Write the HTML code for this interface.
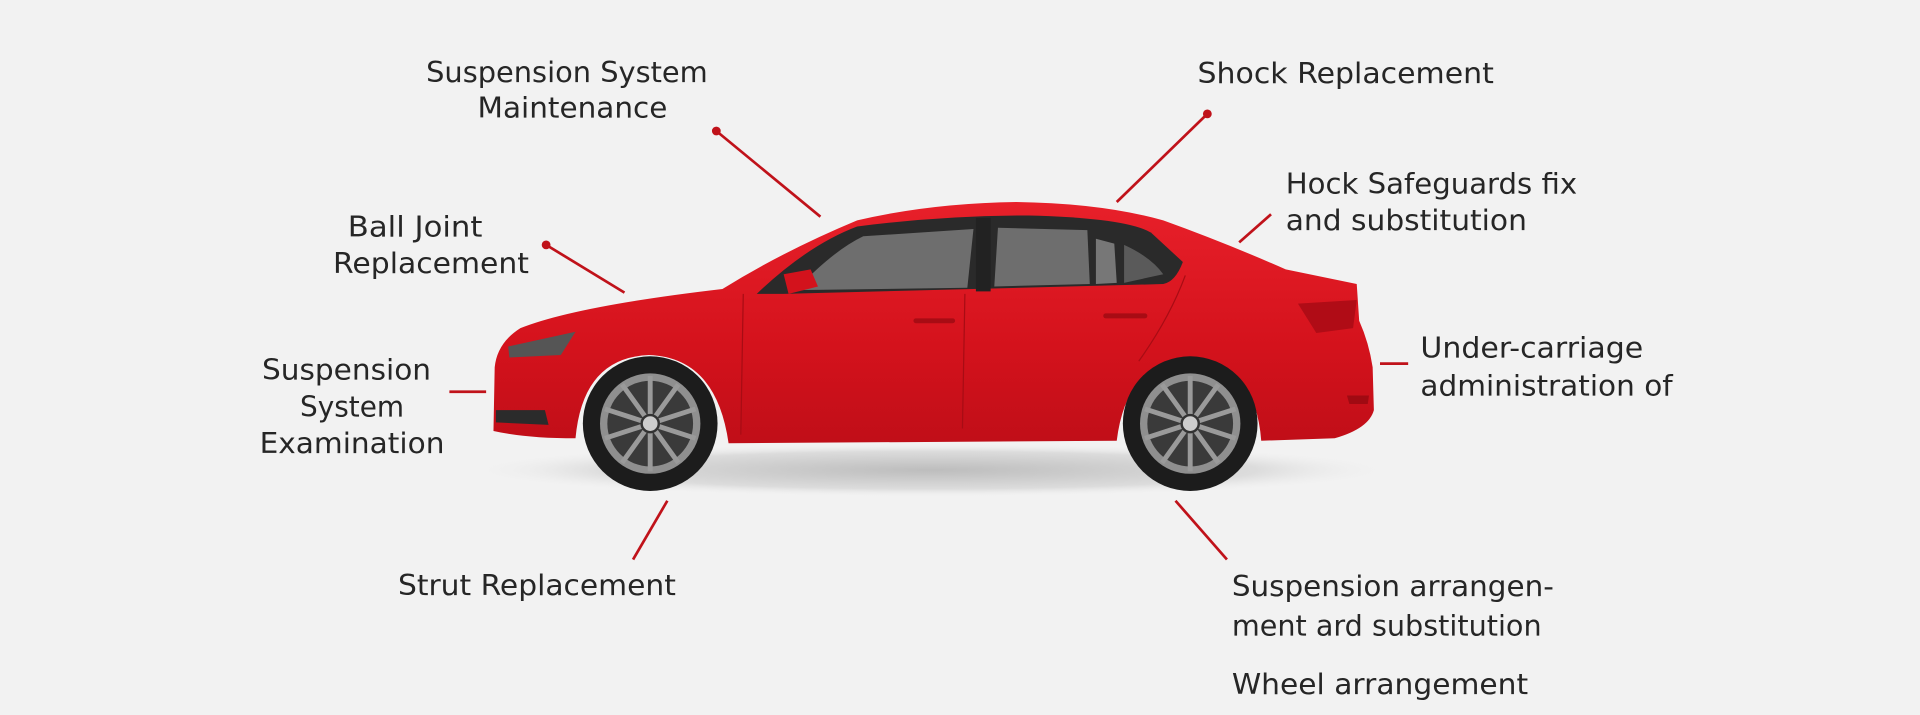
<!DOCTYPE html>
<html><head><meta charset="utf-8"><style>
html,body{margin:0;padding:0;background:#f2f2f2;}
svg{display:block}
text{font-family:"DejaVu Sans","Liberation Sans",sans-serif;font-size:23px;fill:#262626;}
</style></head><body>
<svg width="1920" height="715" viewBox="0 0 1568 584" preserveAspectRatio="none" xmlns="http://www.w3.org/2000/svg">
<defs>
<radialGradient id="sh" cx="0.5" cy="0.5" r="0.5"><stop offset="0" stop-color="#bdbdbd"/><stop offset="0.7" stop-color="#dcdcdc"/><stop offset="1" stop-color="#f2f2f2" stop-opacity="0"/></radialGradient>
<linearGradient id="bd" x1="0" y1="0" x2="0" y2="1"><stop offset="0" stop-color="#e8202a"/><stop offset="0.6" stop-color="#d4121c"/><stop offset="1" stop-color="#c00e18"/></linearGradient>
</defs>
<rect width="1568" height="584" fill="#f2f2f2"/>
<ellipse cx="760" cy="384" rx="380" ry="22" fill="url(#sh)"/>
<path d="M403,352 L404,300 Q406,280 425,268 Q470,250 590,236 Q640,205 700,180 Q760,166 830,165 Q900,166 950,180 Q1000,198 1050,220 L1108,232 L1110,262 Q1118,280 1121,300 L1122,335 Q1118,350 1090,358 L1030,360 Q1025,295 972,292 Q920,295 912,360 L595,362 Q585,292 530,290 Q476,292 470,358 Q430,358 403,352 Z" fill="url(#bd)"/>
<path d="M618,240 Q660,200 700,185 Q770,176 840,176 Q920,178 940,190 L966,214 Q960,230 950,232 L640,240 Z" fill="#2a2a2a"/>
<path d="M650,237 Q680,205 705,193 L795,187 L790,235 Z" fill="#6e6e6e"/>
<path d="M812,234 L815,186 L888,188 L890,232 Z" fill="#6e6e6e"/>
<path d="M895,232 L895,195 L910,199 L912,231 Z" fill="#777"/>
<path d="M918,231 L918,200 Q940,210 950,224 Z" fill="#5a5a5a"/>
<rect x="797" y="178" width="12" height="60" fill="#222"/>
<path d="M640,224 L662,220 L668,234 L644,240 Z" fill="#d3121c"/>
<path d="M607,240 L605,355 M788,240 L786,350 M968,225 Q955,260 930,295" stroke="#a80c14" stroke-width="1" fill="none"/>
<path d="M748,262 L778,262" stroke="#a80c14" stroke-width="4" stroke-linecap="round"/>
<path d="M903,258 L935,258" stroke="#a80c14" stroke-width="4" stroke-linecap="round"/>
<path d="M415,283 L470,271 L458,290 L416,292 Z" fill="#555"/>
<path d="M405,335 L445,335 L448,347 L405,345 Z" fill="#2b2b2b"/>
<path d="M1060,248 L1108,245 L1105,268 L1075,272 Z" fill="#b00c16"/>
<path d="M1100,323 L1118,323 L1117,330 L1102,330 Z" fill="#a00a12"/>
<g id="w">
<circle cx="531" cy="346" r="55" fill="#1c1c1c"/>
<circle cx="531" cy="346" r="41" fill="#8f8f8f"/>
<circle cx="531" cy="346" r="35" fill="#3a3a3a"/>
<g stroke="#9a9a9a" stroke-width="4">
<line x1="531" y1="346" x2="531" y2="307"/><line x1="531" y1="346" x2="554" y2="314"/><line x1="531" y1="346" x2="568" y2="334"/><line x1="531" y1="346" x2="568" y2="358"/><line x1="531" y1="346" x2="554" y2="378"/><line x1="531" y1="346" x2="531" y2="385"/><line x1="531" y1="346" x2="508" y2="378"/><line x1="531" y1="346" x2="494" y2="358"/><line x1="531" y1="346" x2="494" y2="334"/><line x1="531" y1="346" x2="508" y2="314"/>
</g>
<circle cx="531" cy="346" r="7" fill="#ccc" stroke="#333" stroke-width="2"/>
</g>
<use href="#w" x="441" y="0"/>
<g stroke="#c0121a" stroke-width="2.2" fill="#c0121a">
<line x1="585" y1="107" x2="670" y2="177"/><circle cx="585" cy="107" r="2.5"/>
<line x1="986" y1="93" x2="912" y2="165"/><circle cx="986" cy="93" r="2.5"/>
<line x1="1038" y1="175" x2="1012" y2="198"/>
<line x1="446" y1="200" x2="510" y2="239"/><circle cx="446" cy="200" r="2.5"/>
<line x1="367" y1="320" x2="397" y2="320"/>
<line x1="1127" y1="297" x2="1150" y2="297"/>
<line x1="545" y1="409" x2="517" y2="457"/>
<line x1="960" y1="409" x2="1002" y2="457"/>
</g>
<g lengthAdjust="spacingAndGlyphs">
<text x="348" y="67" textLength="230" lengthAdjust="spacingAndGlyphs">Suspension System</text>
<text x="390" y="96" textLength="155" lengthAdjust="spacingAndGlyphs">Maintenance</text>
<text x="978" y="68" textLength="242" lengthAdjust="spacingAndGlyphs">Shock Replacement</text>
<text x="1050" y="158" textLength="238" lengthAdjust="spacingAndGlyphs">Hock Safeguards fix</text>
<text x="1050" y="188" textLength="197" lengthAdjust="spacingAndGlyphs">and substitution</text>
<text x="284" y="193" textLength="110" lengthAdjust="spacingAndGlyphs">Ball Joint</text>
<text x="272" y="223" textLength="160" lengthAdjust="spacingAndGlyphs">Replacement</text>
<text x="1160" y="292" textLength="182" lengthAdjust="spacingAndGlyphs">Under-carriage</text>
<text x="1160" y="323" textLength="206" lengthAdjust="spacingAndGlyphs">administration of</text>
<text x="214" y="310" textLength="138" lengthAdjust="spacingAndGlyphs">Suspension</text>
<text x="245" y="340" textLength="85" lengthAdjust="spacingAndGlyphs">System</text>
<text x="212" y="370" textLength="151" lengthAdjust="spacingAndGlyphs">Examination</text>
<text x="325" y="486" textLength="227" lengthAdjust="spacingAndGlyphs">Strut Replacement</text>
<text x="1006" y="487" textLength="263" lengthAdjust="spacingAndGlyphs">Suspension arrangen-</text>
<text x="1006" y="519" textLength="253" lengthAdjust="spacingAndGlyphs">ment ard substitution</text>
<text x="1006" y="567" textLength="242" lengthAdjust="spacingAndGlyphs">Wheel arrangement</text>
</g>
</svg>
</body></html>
